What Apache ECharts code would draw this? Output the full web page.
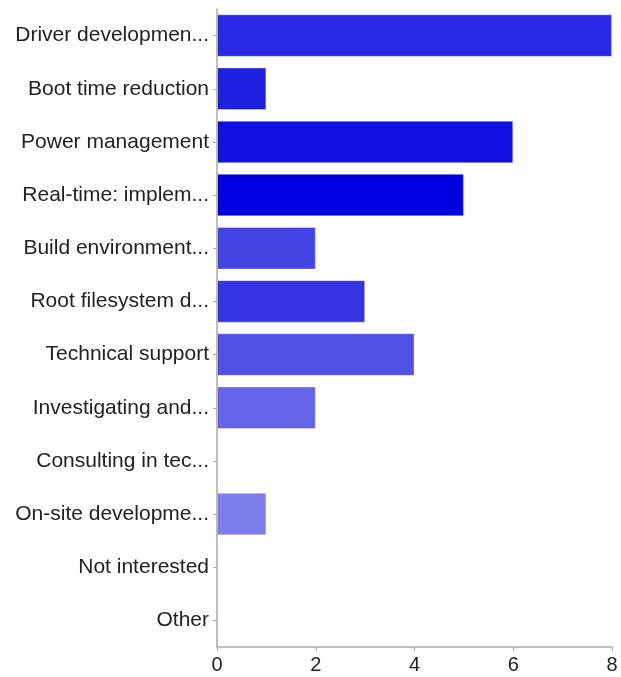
<!DOCTYPE html>
<html><head><meta charset="utf-8">
<script src="https://cdn.jsdelivr.net/npm/echarts@6/dist/echarts.min.js"></script>
<style>html,body{margin:0;padding:0;background:#fff}#c{width:621px;height:677px}</style>
</head><body><div id="c"></div>
<script>
const categories = ["Driver developmen...","Boot time reduction","Power management","Real-time: implem...","Build environment...","Root filesystem d...","Technical support","Investigating and...","Consulting in tec...","On-site developme...","Not interested","Other"];
const values = [8,1,6,5,2,3,4,2,0,1,0,0];
const colors = ["#2a2ae6","#2020e0","#1010e0","#0000e0","#4444e4","#3434e0","#5050e4","#6464e8","#7070ea","#7c7cec","#8888ee","#9494f0"];
const xTicks = [0,2,4,6,8];
const chart = echarts.init(document.getElementById('c'));
chart.setOption({
  animation:false,
  grid:{left:217,right:9,top:9,bottom:30,containLabel:false},
  xAxis:{type:'value',min:0,max:8,interval:2,
    axisLine:{show:true,lineStyle:{color:'#aaaaaa',width:1.5}},
    axisTick:{show:true,length:4,lineStyle:{color:'#aaaaaa'}},
    splitLine:{show:false},
    axisLabel:{color:'#222',fontSize:20,fontFamily:'Liberation Sans, Arial, sans-serif',margin:8,
      formatter:v=>xTicks.includes(v)?String(v):''}},
  yAxis:{type:'category',data:categories,inverse:true,z:5,
    axisLine:{show:true,lineStyle:{color:'#aaaaaa',width:1.5}},
    axisTick:{show:true,length:4,alignWithLabel:true,lineStyle:{color:'#aaaaaa'}},
    axisLabel:{color:'#222',fontSize:21,fontFamily:'Liberation Sans, Arial, sans-serif',margin:8,padding:[4,0,0,0]}},
  series:[{type:'bar',barCategoryGap:'20%',z:2,
    data:values.map((v,i)=>({value:v,itemStyle:{color:colors[i],borderColor:'rgba(255,255,255,0.35)',borderWidth:v>0?1:0}}))}]
});
</script></body></html>
